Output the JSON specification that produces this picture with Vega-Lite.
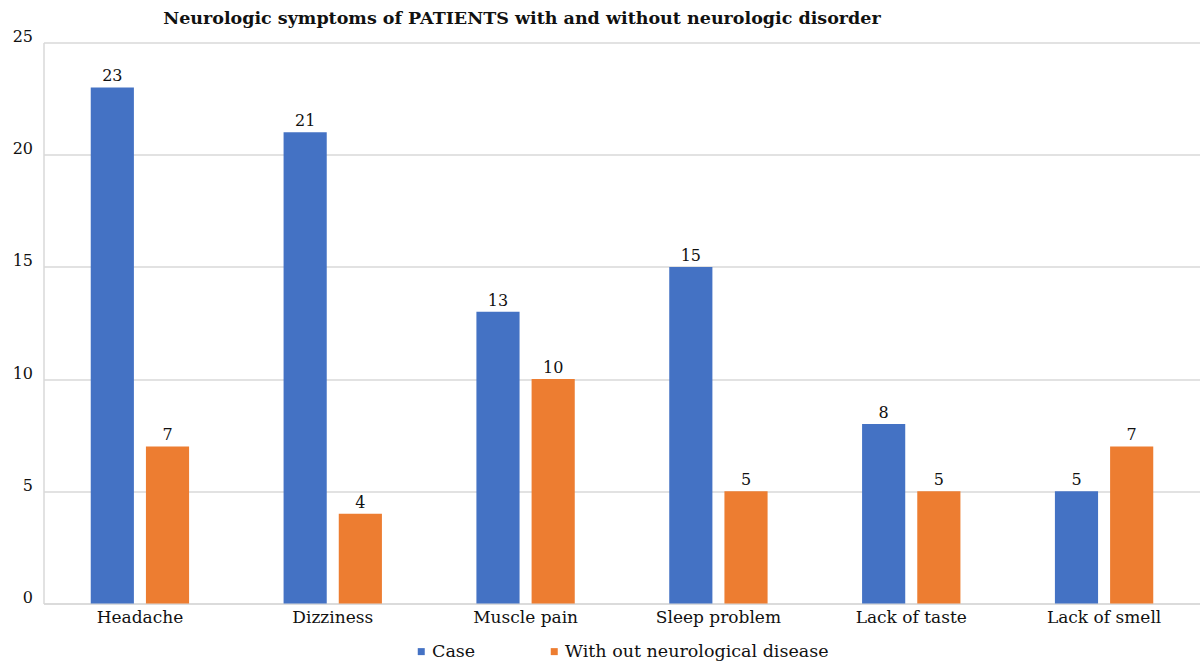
{
  "$schema": "https://vega.github.io/schema/vega-lite/v6.json",
  "autosize": {"type": "none"},
  "width": 1157,
  "height": 561,
  "padding": {"left": 43.5, "top": 42.5, "right": 0, "bottom": 61.5},
  "background": "white",
  "title": {
    "text": "Neurologic symptoms of PATIENTS with and without neurologic disorder",
    "anchor": "start",
    "dx": 151,
    "offset": 1,
    "font": "DejaVu Serif",
    "fontSize": 17.5,
    "fontWeight": "bold",
    "color": "#111111"
  },
  "data": {
    "values": [
      {"symptom": "Headache", "group": "Case", "count": 23},
      {"symptom": "Headache", "group": "With out neurological disease", "count": 7},
      {"symptom": "Dizziness", "group": "Case", "count": 21},
      {"symptom": "Dizziness", "group": "With out neurological disease", "count": 4},
      {"symptom": "Muscle pain", "group": "Case", "count": 13},
      {"symptom": "Muscle pain", "group": "With out neurological disease", "count": 10},
      {"symptom": "Sleep problem", "group": "Case", "count": 15},
      {"symptom": "Sleep problem", "group": "With out neurological disease", "count": 5},
      {"symptom": "Lack of taste", "group": "Case", "count": 8},
      {"symptom": "Lack of taste", "group": "With out neurological disease", "count": 5},
      {"symptom": "Lack of smell", "group": "Case", "count": 5},
      {"symptom": "Lack of smell", "group": "With out neurological disease", "count": 7}
    ]
  },
  "encoding": {
    "x": {
      "field": "symptom",
      "type": "nominal",
      "sort": null,
      "title": null,
      "scale": {"paddingInner": 0.49, "paddingOuter": 0.245},
      "axis": {
        "labelAngle": 0,
        "labelFont": "DejaVu Serif",
        "labelFontSize": 17,
        "labelColor": "#111111",
        "labelPadding": 6,
        "ticks": false,
        "domainColor": "#d9d9d9",
        "domainWidth": 1.5
      }
    },
    "xOffset": {
      "field": "group",
      "type": "nominal",
      "scale": {"paddingInner": 0.218, "paddingOuter": 0}
    },
    "y": {
      "field": "count",
      "type": "quantitative",
      "title": null,
      "scale": {"domain": [0, 25], "nice": false},
      "axis": {
        "values": [0, 5, 10, 15, 20, 25],
        "labelFont": "DejaVu Serif",
        "labelFontSize": 16,
        "labelColor": "#111111",
        "labelPadding": 11,
        "labelOffset": -6,
        "ticks": false,
        "domainColor": "#d9d9d9",
        "domainWidth": 1.5,
        "gridColor": "#d9d9d9",
        "gridWidth": 1.5
      }
    },
    "color": {
      "field": "group",
      "type": "nominal",
      "title": null,
      "scale": {
        "domain": ["Case", "With out neurological disease"],
        "range": ["#4472C4", "#ED7D31"]
      },
      "legend": {
        "orient": "none",
        "legendX": 369,
        "legendY": 600,
        "direction": "horizontal",
        "symbolType": "square",
        "symbolSize": 49,
        "symbolStrokeWidth": 0,
        "labelFont": "DejaVu Serif",
        "labelFontSize": 17.5,
        "labelColor": "#111111",
        "labelOffset": 2,
        "labelLimit": 400,
        "columnPadding": 70
      }
    }
  },
  "layer": [
    {"mark": {"type": "bar"}},
    {
      "mark": {
        "type": "text",
        "baseline": "bottom",
        "dy": -3,
        "font": "DejaVu Serif",
        "fontSize": 16,
        "color": "#111111"
      },
      "encoding": {
        "text": {"field": "count", "type": "quantitative"},
        "color": {"value": "#111111"}
      }
    }
  ],
  "config": {
    "view": {"stroke": null}
  }
}
